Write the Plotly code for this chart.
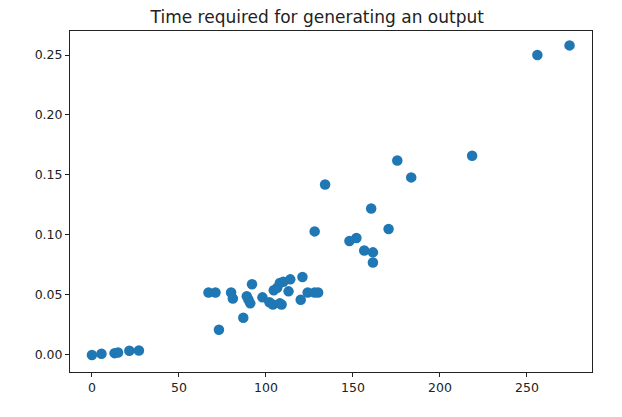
import plotly.graph_objects as go

x_vals = [0, 5.5, 13, 15, 21.5, 27,
          67, 71, 80, 81, 73, 87, 89, 90, 91, 92, 98, 102, 104, 104.5, 106.5,
          108, 110, 114, 108, 109, 113, 121, 120, 124, 128, 130,
          128, 134, 148, 152, 156.5, 161.5, 161.5, 160.5, 170.5, 175.5, 183.5,
          218.5, 256, 274.5]
y_vals = [0.0, 0.001, 0.0015, 0.002, 0.0035, 0.0037,
          0.052, 0.052, 0.052, 0.047, 0.021, 0.031, 0.049, 0.046, 0.043, 0.059, 0.048, 0.044, 0.042, 0.054, 0.056,
          0.06, 0.061, 0.063, 0.043, 0.042, 0.053, 0.065, 0.046, 0.052, 0.052, 0.052,
          0.103, 0.142, 0.095, 0.0975, 0.087, 0.0855, 0.077, 0.122, 0.105, 0.162, 0.148,
          0.166, 0.25, 0.258]

x_ticks = [0, 50, 100, 150, 200, 250]
y_ticks = [0.0, 0.05, 0.10, 0.15, 0.20, 0.25]
y_tick_labels = ["0.00", "0.05", "0.10", "0.15", "0.20", "0.25"]

fig = go.Figure(go.Scatter(
    x=x_vals, y=y_vals, mode="markers",
    marker=dict(color="#1f77b4", size=10.5, line=dict(width=0)),
))

axis_common = dict(
    showgrid=False, zeroline=False, showline=True, linecolor="#222222", linewidth=1,
    mirror=True, ticks="outside", ticklen=4, tickcolor="#222222",
    tickfont=dict(family="DejaVu Sans", size=12.5, color="#222222"),
)
fig.update_layout(
    width=622, height=417,
    margin=dict(l=70, r=30, t=31, b=45),
    paper_bgcolor="white", plot_bgcolor="white",
    title=dict(text="Time required for generating an output", x=0.51, xanchor="center",
               y=0.958, yanchor="middle",
               font=dict(family="DejaVu Sans", size=17, color="#222222")),
    xaxis=dict(range=[-12.6, 287.4], tickvals=x_ticks, **axis_common),
    yaxis=dict(range=[-0.0142, 0.2700], tickvals=y_ticks, ticktext=y_tick_labels, **axis_common),
    showlegend=False,
)
fig.write_html("out.html")
